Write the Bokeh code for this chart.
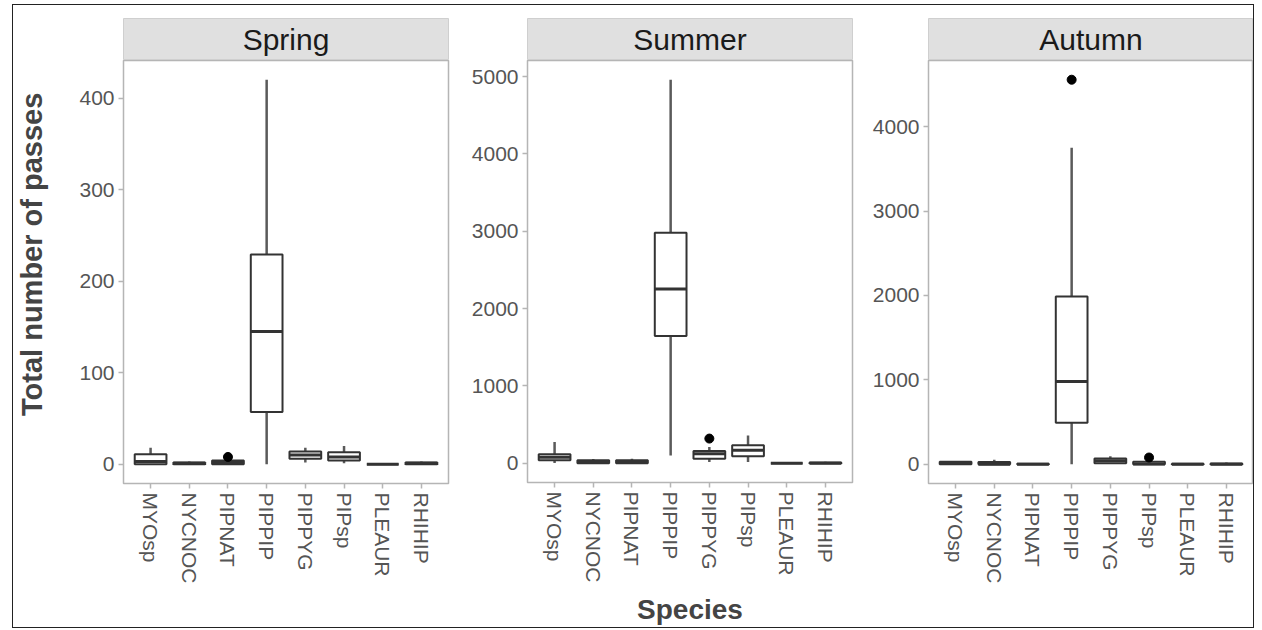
import math
from bokeh.plotting import figure
from bokeh.layouts import row, column
from bokeh.models import FactorRange, Range1d, FixedTicker, ColumnDataSource
from bokeh.embed import file_html
from bokeh.resources import INLINE
from bokeh.core.properties import value

species = ["MYOsp", "NYCNOC", "PIPNAT", "PIPPIP", "PIPPYG", "PIPsp", "PLEAUR", "RHIHIP"]
seasons = ["Spring", "Summer", "Autumn"]

# box statistics per season: lower whisker, Q1, median, Q3, upper whisker
spring_low = [0, 0, 0, 0, 2, 1, 0, 0]
spring_q1 = [0, 0, 0, 57, 6, 4, 0, 0]
spring_med = [3, 1, 2, 145, 10, 8, 0, 1]
spring_q3 = [11, 2, 4, 229, 14, 13, 0, 2]
spring_high = [18, 3, 6, 420, 18, 20, 0, 3]
spring_out_species = ["PIPNAT"]
spring_out_values = [8]

summer_low = [5, 0, 0, 100, 17, 17, 0, 0]
summer_q1 = [39, 0, 0, 1645, 60, 91, 0, 0]
summer_med = [78, 13, 10, 2254, 125, 168, 0, 0]
summer_q3 = [117, 39, 39, 2980, 160, 233, 0, 10]
summer_high = [276, 56, 60, 4960, 212, 360, 0, 20]
summer_out_species = ["PIPPYG"]
summer_out_values = [320]

autumn_low = [0, 0, 0, 0, 5, 0, 0, 0]
autumn_q1 = [0, 0, 0, 491, 12, 0, 0, 0]
autumn_med = [12, 0, 0, 982, 43, 4, 0, 0]
autumn_q3 = [30, 28, 5, 1988, 67, 30, 5, 10]
autumn_high = [40, 55, 8, 3750, 95, 60, 8, 20]
autumn_out_species = ["PIPsp", "PIPPIP"]
autumn_out_values = [80, 4556]

spring_ticks = [0, 100, 200, 300, 400]
summer_ticks = [0, 1000, 2000, 3000, 4000, 5000]
autumn_ticks = [0, 1000, 2000, 3000, 4000]

y_title = "Total number of passes"
x_title = "Species"

FONT = "Liberation Sans"
TICK_COLOR = "#555555"
BORDER = "#b5b5b5"
TITLE_COLOR = "#444444"

data = {
    "Spring": (spring_low, spring_q1, spring_med, spring_q3, spring_high,
               spring_out_species, spring_out_values, spring_ticks),
    "Summer": (summer_low, summer_q1, summer_med, summer_q3, summer_high,
               summer_out_species, summer_out_values, summer_ticks),
    "Autumn": (autumn_low, autumn_q1, autumn_med, autumn_q3, autumn_high,
               autumn_out_species, autumn_out_values, autumn_ticks),
}

geom = {
    "Spring": dict(width=392, left=65, right=2),
    "Summer": dict(width=404, left=77, right=2),
    "Autumn": dict(width=399, left=74, right=0),
}

# narrow column holding the y-axis title
title_fig = figure(width=45, height=622, output_backend="svg", toolbar_location=None,
                   x_range=Range1d(0, 1), y_range=Range1d(0, 1),
                   x_axis_location=None, y_axis_location=None,
                   min_border=0)
title_fig.xgrid.visible = False
title_fig.ygrid.visible = False
title_fig.outline_line_color = None
title_fig.text(x=[0.42], y=[0.60], text=[y_title], angle=math.pi / 2,
               text_align="center", text_baseline="middle",
               text_font=value(FONT), text_font_size="29px", text_font_style="bold",
               text_color=TITLE_COLOR)

cols = [title_fig]
for season in seasons:
    low, q1, med, q3, high, osp, oval, ticks = data[season]
    g = geom[season]

    # facet strip
    s = figure(width=g["width"], height=55, output_backend="svg", toolbar_location=None,
               x_range=Range1d(0, 1), y_range=Range1d(0, 1),
               x_axis_location=None, y_axis_location=None,
               min_border_left=g["left"], min_border_right=g["right"],
               min_border_top=13, min_border_bottom=0)
    s.xgrid.visible = False
    s.ygrid.visible = False
    s.background_fill_color = "#e0e0e0"
    s.border_fill_color = "white"
    s.outline_line_color = "#cfcfcf"
    s.text(x=[0.5], y=[0.5], text=[season], text_align="center", text_baseline="middle",
           text_font=value(FONT), text_font_size="30px", text_color="#1a1a1a")

    allv = low + high + oval
    lo, hi = min(allv), max(allv)
    pad = 0.05 * (hi - lo)

    p = figure(width=g["width"], height=567, output_backend="svg", toolbar_location=None,
               x_range=FactorRange(factors=species, range_padding=0.2,
                                   range_padding_units="absolute"),
               y_range=Range1d(lo - pad, hi + pad),
               min_border_left=g["left"], min_border_right=g["right"],
               min_border_top=0, min_border_bottom=144)
    p.xgrid.visible = False
    p.ygrid.visible = False
    p.outline_line_color = BORDER
    p.outline_line_width = 1.5
    p.background_fill_color = "white"

    for ax in (p.xaxis[0], p.yaxis[0]):
        ax.axis_line_color = None
        ax.major_tick_line_color = BORDER
        ax.major_tick_line_width = 1.5
        ax.major_tick_out = 5
        ax.major_tick_in = 0
        ax.minor_tick_line_color = None
        ax.major_label_text_font = FONT
        ax.major_label_text_font_size = "21px"
        ax.major_label_text_color = TICK_COLOR
        ax.major_label_standoff = 4
        ax.axis_label_text_font = FONT
        ax.axis_label_text_font_size = "28px"
        ax.axis_label_text_font_style = "bold"
        ax.axis_label_text_color = TITLE_COLOR
    p.yaxis[0].ticker = FixedTicker(ticks=ticks)
    p.xaxis[0].major_label_orientation = "vertical"

    if season == "Summer":
        p.xaxis[0].axis_label = x_title
        p.xaxis[0].axis_label_standoff = 8

    src = ColumnDataSource(dict(sp=species, low=low, q1=q1, med=med, q3=q3, high=high))
    p.segment(x0="sp", y0="low", x1="sp", y1="q1", source=src,
              line_color="#5a5a5a", line_width=2.5)
    p.segment(x0="sp", y0="q3", x1="sp", y1="high", source=src,
              line_color="#5a5a5a", line_width=2.5)
    p.vbar(x="sp", bottom="q1", top="q3", width=0.82, source=src,
           fill_color="white", line_color="#333333", line_width=2)
    p.rect(x="sp", y="med", width=0.82, height=3, height_units="screen", source=src,
           fill_color="#333333", line_color=None)
    p.scatter(x=osp, y=oval, size=9, color="black")

    cols.append(column(s, p, spacing=0))

layout = column(row(*cols, spacing=0), margin=(4, 0, 0, 12),
                styles={"border": "1px solid #222222"})

open("out.html", "w").write(file_html(layout, INLINE))
